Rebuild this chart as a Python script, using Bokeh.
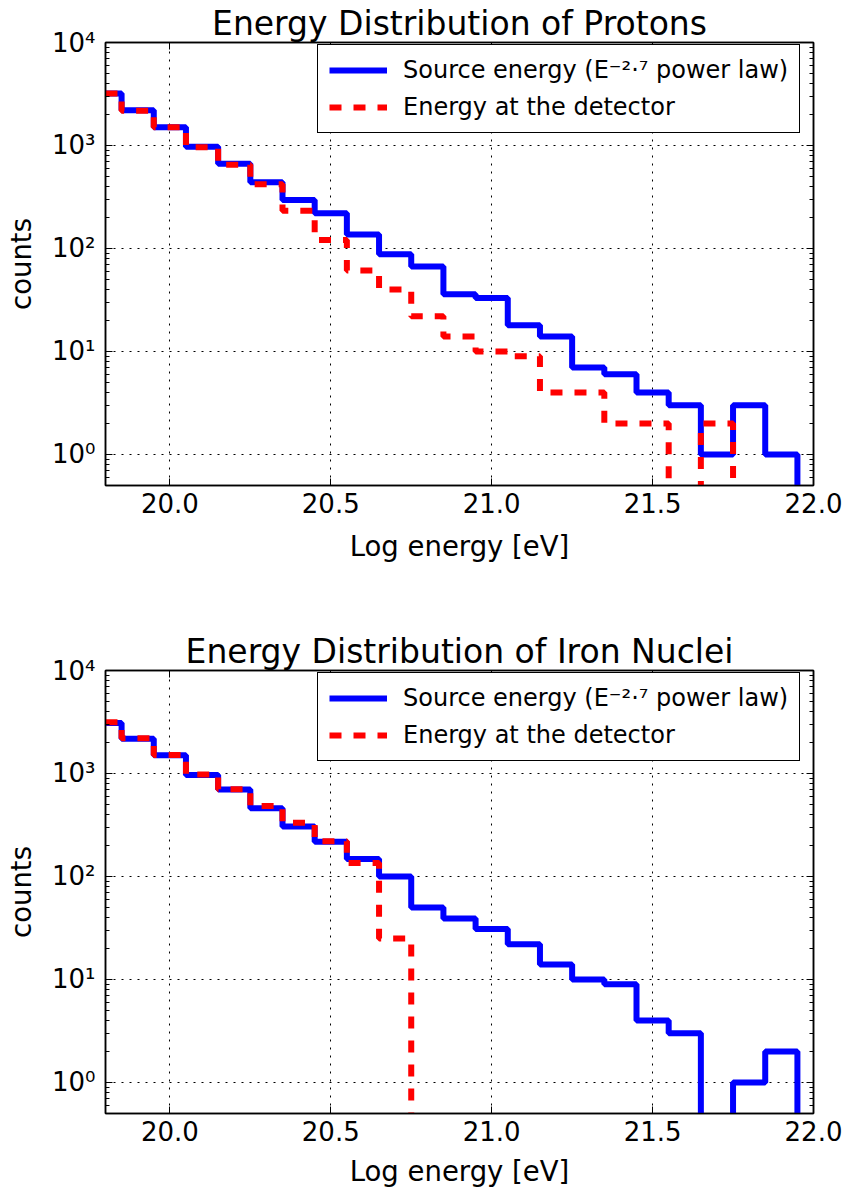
from bokeh.plotting import figure
from bokeh.models import (FixedTicker, LinearAxis, LogAxis, Legend, LegendItem,
                          Range1d, CustomJSTickFormatter, NumeralTickFormatter)
from bokeh.layouts import column
from bokeh.embed import file_html
from bokeh.resources import INLINE

# ---------------- data ----------------
energy_bins = [19.8, 19.9, 20.0, 20.1, 20.2, 20.3, 20.4, 20.5, 20.6, 20.7, 20.8,
               20.9, 21.0, 21.1, 21.2, 21.3, 21.4, 21.5, 21.6, 21.7, 21.8, 21.9, 22.0]

proton_source = [3200, 2200, 1500, 970, 665, 440, 295, 220, 137, 88, 67,
                 36, 33, 18, 14, 7, 6, 4, 3, 1, 3, 1, 0]
proton_detector = [3200, 2170, 1500, 960, 650, 420, 233, 121, 61, 40, 22,
                   14, 10, 9, 4, 4, 2, 2, 0, 2, 0, 0, 0]

iron_source = [3100, 2180, 1500, 965, 700, 460, 305, 218, 148, 100, 50,
               39, 31, 22, 14, 10, 9, 4, 3, 0, 1, 2, 0]
iron_detector = [3150, 2200, 1510, 980, 705, 483, 333, 220, 135, 25, 0,
                 0, 0, 0, 0, 0, 0, 0, 0, 0, 0, 0, 0]

titles = ["Energy Distribution of Protons", "Energy Distribution of Iron Nuclei"]
source_label = "Source energy (E\u207b\u00b2\u00b7\u2077 power law)"
detector_label = "Energy at the detector"
x_label = "Log energy [eV]"
y_label = "counts"

x_ticks = [20.0, 20.5, 21.0, 21.5, 22.0]
y_ticks = [1, 10, 100, 1000, 10000]
y_tick_labels = ["10\u2070", "10\u00b9", "10\u00b2", "10\u00b3", "10\u2074"]
y_minor_ticks = [k * 10.0 ** n for n in range(-1, 4) for k in range(2, 10)]

FONT = "DejaVu Sans"
FLOOR = 1e-3  # zero counts fall off the bottom of the log axis


def make_panel(title, source, detector, height, bottom_border, xlabel_standoff):
    p = figure(width=845, height=height, y_axis_type="log",
               x_range=Range1d(19.8, 22.0), y_range=Range1d(0.5, 10000),
               output_backend="svg", toolbar_location=None,
               min_border_left=105, min_border_right=32,
               min_border_top=42, min_border_bottom=bottom_border)
    p.background_fill_color = "white"
    p.border_fill_color = "white"
    p.outline_line_color = "black"
    p.outline_line_width = 1.5

    p.title.text = title
    p.title.text_font = FONT
    p.title.text_font_size = "33px"
    p.title.text_font_style = "normal"
    p.title.align = "center"
    p.title.text_color = "black"
    p.title.standoff = 0
    p.title.offset = 0

    ys = [v if v > 0 else FLOOR for v in source]
    yd = [v if v > 0 else FLOOR for v in detector]
    r1 = p.step(energy_bins, ys, mode="center", line_color="blue", line_width=6)
    r2 = p.step(energy_bins, yd, mode="center", line_color="red", line_width=6,
                line_dash="12 12")

    # axes
    xticker = FixedTicker(ticks=x_ticks, minor_ticks=[])
    yticker = FixedTicker(ticks=y_ticks, minor_ticks=y_minor_ticks)
    yfmt = CustomJSTickFormatter(args=dict(yt=y_ticks, yl=y_tick_labels),
                                 code="""
        for (let i = 0; i < yt.length; i++) {
            if (Math.abs(tick - yt[i]) < 1e-6 * yt[i]) return yl[i];
        }
        return "";""")
    empty = CustomJSTickFormatter(code="return '';")

    xa = p.xaxis[0]
    xa.ticker = xticker
    xa.formatter = NumeralTickFormatter(format="0.0")
    xa.axis_label = x_label
    ya = p.yaxis[0]
    ya.ticker = yticker
    ya.formatter = yfmt
    ya.axis_label = y_label

    top = LinearAxis(ticker=FixedTicker(ticks=x_ticks, minor_ticks=[]), formatter=empty)
    right = LogAxis(ticker=FixedTicker(ticks=y_ticks, minor_ticks=y_minor_ticks),
                    formatter=empty)
    p.add_layout(top, "above")
    p.add_layout(right, "right")

    for ax in (xa, ya, top, right):
        ax.axis_line_color = "black"
        ax.axis_line_width = 1.5
        ax.major_tick_in = 7
        ax.major_tick_out = 0
        ax.minor_tick_in = 4
        ax.minor_tick_out = 0
        ax.major_tick_line_color = "black"
        ax.minor_tick_line_color = "black"
        ax.major_label_text_font = FONT
        ax.major_label_text_color = "black"
        ax.axis_label_text_font = FONT
        ax.axis_label_text_font_style = "normal"
        ax.axis_label_text_color = "black"
        ax.axis_label_text_font_size = "27.5px"
    for ax in (xa, ya):
        ax.major_label_text_font_size = "26px"
    xa.major_label_standoff = 7
    xa.axis_label_standoff = xlabel_standoff
    ya.major_label_standoff = 10
    ya.axis_label_standoff = 12
    for ax in (top, right):
        ax.major_label_text_font_size = "0px"
        ax.major_label_standoff = 0

    # grid
    p.xgrid[0].ticker = xticker
    p.ygrid[0].ticker = yticker
    for g in (p.xgrid[0], p.ygrid[0]):
        g.grid_line_color = "black"
        g.grid_line_width = 1
        g.grid_line_dash = "2 6"
        g.grid_line_alpha = 1.0

    legend = Legend(items=[LegendItem(label=source_label, renderers=[r1]),
                           LegendItem(label=detector_label, renderers=[r2])],
                    location=(212, 352))
    legend.label_text_font = FONT
    legend.label_text_font_size = "24px"
    legend.label_text_color = "black"
    legend.glyph_width = 58
    legend.glyph_height = 26
    legend.label_standoff = 16
    legend.label_height = 26
    legend.padding = 11
    legend.spacing = 9
    legend.margin = 0
    legend.border_line_color = "black"
    legend.border_line_alpha = 1.0
    legend.border_line_width = 1.5
    legend.background_fill_color = "white"
    legend.background_fill_alpha = 1.0
    p.add_layout(legend)
    return p


p1 = make_panel(titles[0], proton_source, proton_detector, 628, 143, 14)
p2 = make_panel(titles[1], iron_source, iron_detector, 561, 76, 11)
page = column(p1, p2)

open("out.html", "w").write(file_html(page, INLINE))
